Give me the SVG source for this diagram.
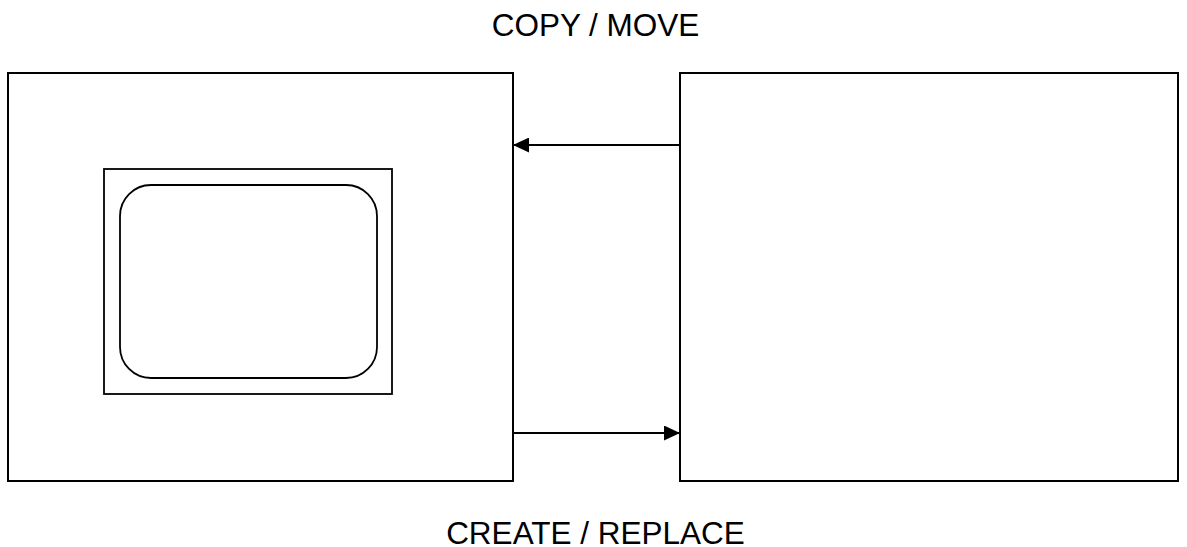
<svg xmlns="http://www.w3.org/2000/svg" width="1187" height="547" viewBox="0 0 1187 547">
<style>
.box{fill:#fff;stroke:#000;stroke-width:2}
.thin{fill:#fff;stroke:#000;stroke-width:1.8}
.lbl{font-family:"Liberation Sans",Arial,sans-serif;font-size:31.5px;fill:#000;text-anchor:middle}
.conn{stroke:#000;stroke-width:2;fill:none}
</style>
<defs>
<marker id="ah2" markerWidth="16" markerHeight="15" refX="16" refY="7.5" orient="auto" markerUnits="userSpaceOnUse" viewBox="0 0 16 15">
<path d="M0,0 L16,7.5 L0,15 Z" fill="#000"/>
</marker>
</defs>
<g id="label-top"><text class="lbl" x="595.5" y="36">COPY / MOVE</text></g>
<g id="label-bottom"><text class="lbl" x="595.5" y="543.5">CREATE / REPLACE</text></g>
<g id="left-node">
<rect class="box" x="8" y="73" width="505" height="408"/>
<rect class="thin" x="104" y="169" width="288" height="225"/>
<rect class="thin" x="120" y="185" width="257" height="193" rx="31" ry="31"/>
</g>
<g id="right-node">
<rect class="box" x="680" y="73" width="498" height="408"/>
</g>
<g id="connectors">
<line class="conn" x1="680" y1="145" x2="513" y2="145" marker-end="url(#ah2)"/>
<line class="conn" x1="513" y1="433" x2="680" y2="433" marker-end="url(#ah2)"/>
</g>
</svg>
